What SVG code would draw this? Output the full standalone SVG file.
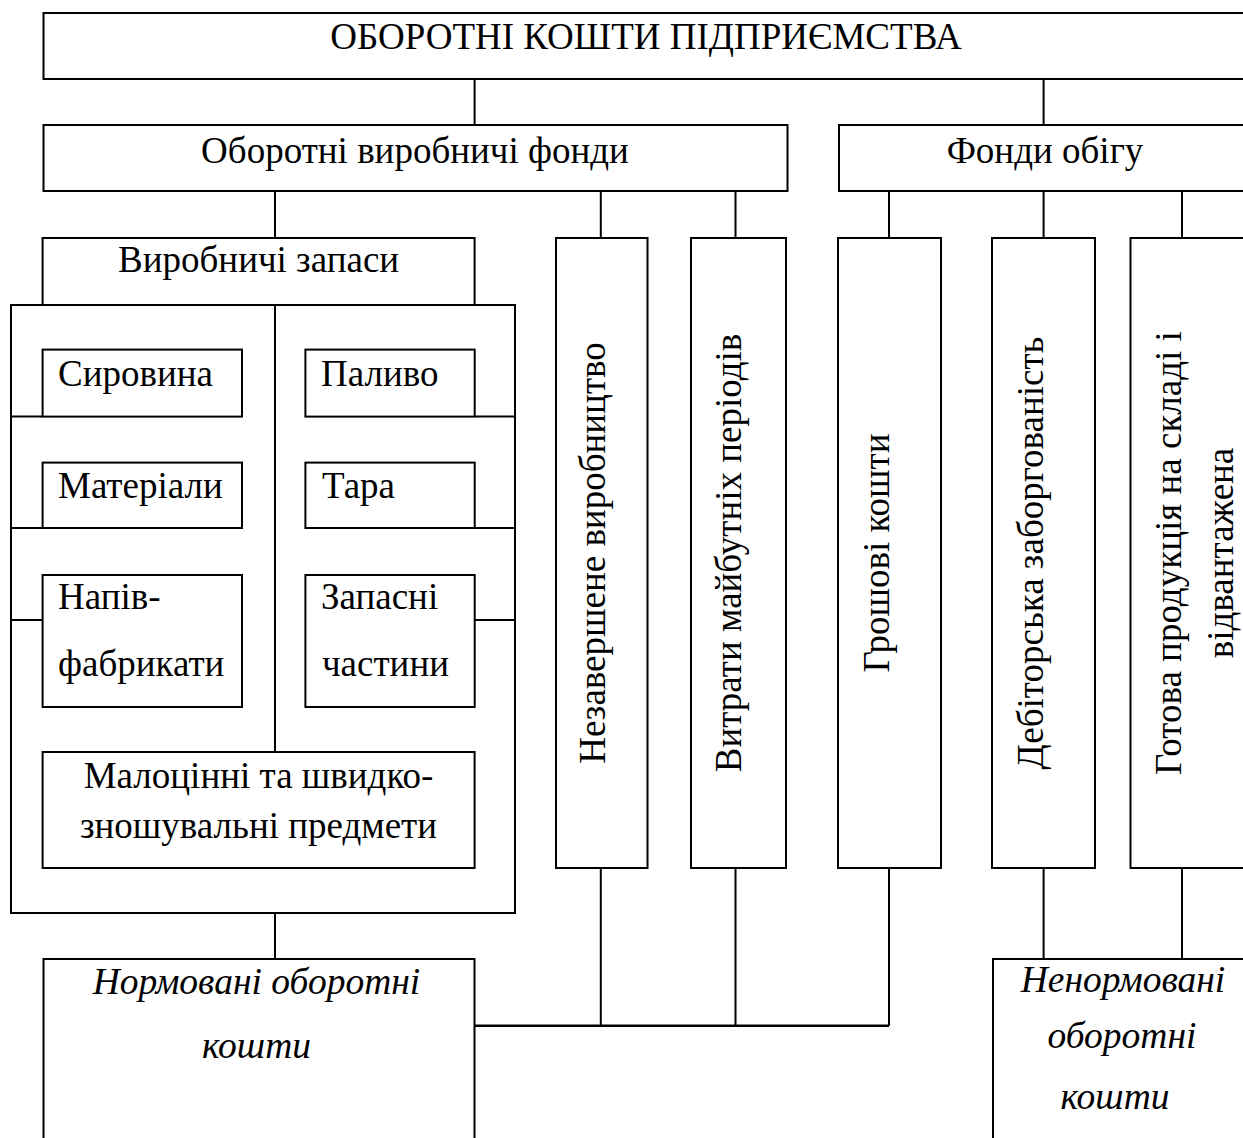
<svg xmlns="http://www.w3.org/2000/svg" width="1243" height="1138" viewBox="0 0 1243 1138">
<style>
.box{fill:#fff;stroke:#000;stroke-width:2}
.ln{fill:none;stroke:#000;stroke-width:2}
text{font-family:"Liberation Serif","Times New Roman",serif;fill:#000;font-size:37px}
.c{text-anchor:middle}
.it{font-style:italic;font-size:37.5px;text-anchor:middle}
</style>
<rect width="1243" height="1138" fill="#fff"/>
<g id="connectors">
<path class="ln" d="M474.6 79V125M1043.6 79V125"/>
<path class="ln" d="M275 191V238M600.8 191V238M735.5 191V238M889 191V238M1043.6 191V238M1182 191V238"/>
<path class="ln" d="M275 913V959"/>
<path class="ln" d="M600.8 868V1025.7M735.5 868V1025.7M889 868V1025.7"/>
<path class="ln" d="M474.6 1025.7H889" style="stroke-width:2.5"/>
<path class="ln" d="M1043.6 868V959M1182 868V959"/>
</g>
<g id="n-top"><rect class="box" x="43.5" y="13" width="1210" height="66"/><text class="c" x="646" y="49">ОБОРОТНІ КОШТИ ПІДПРИЄМСТВА</text></g>
<g id="n-ovf"><rect class="box" x="43.5" y="125" width="744" height="66"/><text class="c" x="415" y="163">Оборотні виробничі фонди</text></g>
<g id="n-fo"><rect class="box" x="839" y="125" width="414" height="66"/><text class="c" x="1045" y="163">Фонди обігу</text></g>
<g id="n-outer"><rect class="box" x="11" y="305" width="504" height="608"/>
<path class="ln" d="M275 305V752"/>
<path class="ln" d="M11 416.6H42.6M474.7 416.6H515M11 528H42.6M474.7 528H515M11 620H42.6M474.7 620H515"/></g>
<g id="n-vz"><rect class="box" x="42.6" y="238" width="432" height="67"/><text class="c" x="258.6" y="272">Виробничі запаси</text></g>
<g id="n-syr"><rect class="box" x="42.6" y="349.6" width="199.4" height="67"/><text x="58" y="386">Сировина</text></g>
<g id="n-pal"><rect class="box" x="305.4" y="349.6" width="169.3" height="67"/><text x="321" y="386">Паливо</text></g>
<g id="n-mat"><rect class="box" x="42.6" y="462.6" width="199.4" height="65.4"/><text x="58" y="498">Матеріали</text></g>
<g id="n-tara"><rect class="box" x="305.4" y="462.6" width="169.3" height="65.4"/><text x="322" y="498">Тара</text></g>
<g id="n-nap"><rect class="box" x="42.6" y="575" width="199.4" height="132"/><text x="58" y="609">Напів-</text><text x="58" y="676">фабрикати</text></g>
<g id="n-zap"><rect class="box" x="305.4" y="575" width="169.3" height="132"/><text x="321" y="609">Запасні</text><text x="322" y="676">частини</text></g>
<g id="n-mal"><rect class="box" x="42.6" y="752" width="432" height="116"/><text class="c" x="258.5" y="788">Малоцінні та швидко-</text><text class="c" x="258.5" y="838">зношувальні предмети</text></g>
<g id="n-nez"><rect class="box" x="556" y="238" width="91.5" height="630"/><text class="c" transform="translate(605,553) rotate(-90)">Незавершене виробництво</text></g>
<g id="n-vyt"><rect class="box" x="691" y="238" width="95" height="630"/><text class="c" transform="translate(741,553) rotate(-90)">Витрати майбутніх періодів</text></g>
<g id="n-gro"><rect class="box" x="838" y="238" width="103" height="630"/><text class="c" transform="translate(889,553) rotate(-90)">Грошові кошти</text></g>
<g id="n-deb"><rect class="box" x="992" y="238" width="103" height="630"/><text class="c" transform="translate(1043,553) rotate(-90)">Дебіторська заборгованість</text></g>
<g id="n-got"><rect class="box" x="1130.5" y="238" width="123" height="630"/><text class="c" transform="translate(1181,553) rotate(-90)">Готова продукція на складі і</text><text class="c" transform="translate(1233,553) rotate(-90)">відвантажена</text></g>
<g id="n-norm"><rect class="box" x="43.5" y="959" width="431" height="200"/><text class="it" x="256.5" y="994">Нормовані оборотні</text><text class="it" x="256.5" y="1058">кошти</text></g>
<g id="n-nenorm"><rect class="box" x="993" y="959" width="260" height="200"/><text class="it" x="1123" y="992">Ненормовані</text><text class="it" x="1122" y="1048">оборотні</text><text class="it" x="1115" y="1109">кошти</text></g>
</svg>
